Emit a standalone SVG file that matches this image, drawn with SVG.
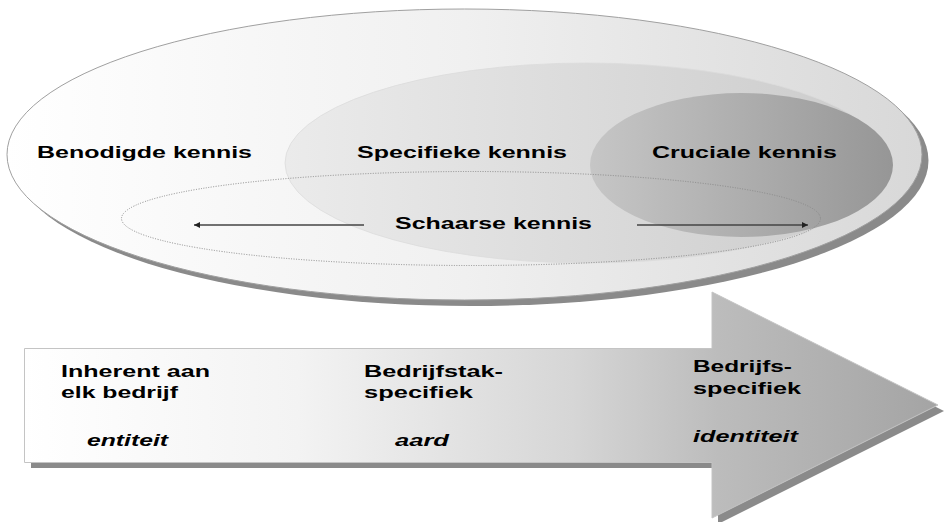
<svg xmlns="http://www.w3.org/2000/svg" width="944" height="522" viewBox="0 0 944 522">
  <defs>
    <linearGradient id="gOuter" gradientUnits="userSpaceOnUse" x1="7" y1="0" x2="922" y2="0">
      <stop offset="0" stop-color="#ffffff"/>
      <stop offset="0.5" stop-color="#f0f0f0"/>
      <stop offset="1" stop-color="#d8d8d8"/>
    </linearGradient>
    <linearGradient id="gSpec" gradientUnits="userSpaceOnUse" x1="285" y1="0" x2="885" y2="0">
      <stop offset="0" stop-color="#ebebeb"/>
      <stop offset="1" stop-color="#cbcbcb"/>
    </linearGradient>
    <linearGradient id="gCruc" gradientUnits="userSpaceOnUse" x1="590" y1="0" x2="893" y2="0">
      <stop offset="0" stop-color="#c6c6c6"/>
      <stop offset="1" stop-color="#969696"/>
    </linearGradient>
    <linearGradient id="gArrow" gradientUnits="userSpaceOnUse" x1="24" y1="0" x2="938" y2="0">
      <stop offset="0" stop-color="#ffffff"/>
      <stop offset="0.3" stop-color="#f3f3f3"/>
      <stop offset="0.6" stop-color="#d6d6d6"/>
      <stop offset="0.76" stop-color="#bcbcbc"/>
      <stop offset="1" stop-color="#a4a4a4"/>
    </linearGradient>
    <marker id="ah" viewBox="0 0 10 10" refX="10" refY="5" markerWidth="8" markerHeight="6" markerUnits="userSpaceOnUse" orient="auto">
      <path d="M0,0 L10,5 L0,10 Z" fill="#222"/>
    </marker>
    <style>
      text { font-family: "Liberation Sans", Arial, sans-serif; font-weight: bold; font-size: 17px; fill: #000; }
      .it { font-style: italic; }
      .shadow { fill: #8a8a8a; }
      .conn { stroke: #444; stroke-width: 1.5; fill: none; marker-end: url(#ah); }
    </style>
  </defs>

  <g id="benodigde">
    <ellipse class="shadow" cx="471" cy="160.5" rx="457.5" ry="145.5"/>
    <ellipse cx="464.5" cy="154.5" rx="457.5" ry="145.5" fill="url(#gOuter)" stroke="#a0a0a0" stroke-width="1"/>
    <text x="37" y="158" textLength="215" lengthAdjust="spacingAndGlyphs">Benodigde kennis</text>
  </g>

  <g id="specifieke">
    <ellipse cx="587" cy="163" rx="302" ry="100" fill="url(#gSpec)" stroke="#dcdcdc" stroke-width="0.8"/>
    <text x="357" y="158" textLength="210" lengthAdjust="spacingAndGlyphs">Specifieke kennis</text>
  </g>

  <g id="cruciale">
    <ellipse cx="741.5" cy="165" rx="151.5" ry="72" fill="url(#gCruc)"/>
    <text x="652" y="158" textLength="185" lengthAdjust="spacingAndGlyphs">Cruciale kennis</text>
  </g>

  <g id="schaarse">
    <ellipse cx="471" cy="218.5" rx="349.5" ry="47" fill="none" stroke="#8a8a8a" stroke-width="1" stroke-dasharray="1 1.5"/>
    <text x="395" y="229" textLength="197" lengthAdjust="spacingAndGlyphs">Schaarse kennis</text>
  </g>

  <g id="connectors">
    <line class="conn" x1="364" y1="225" x2="194" y2="225"/>
    <line class="conn" x1="637" y1="225" x2="808" y2="225"/>
  </g>

  <g id="process-arrow">
    <polygon class="shadow" points="31,354 718,354 718,298 944,411 718,524 718,468 31,468"/>
    <polygon points="24.5,348.5 712,348.5 712,292 938,405 712,518 712,462.5 24.5,462.5" fill="url(#gArrow)" stroke="#c4c4c4" stroke-width="1"/>
  </g>

  <g id="inherent">
    <text x="61" y="377" textLength="149" lengthAdjust="spacingAndGlyphs">Inherent aan</text>
    <text x="61" y="398" textLength="117" lengthAdjust="spacingAndGlyphs">elk bedrijf</text>
    <text class="it" x="87" y="446" textLength="81" lengthAdjust="spacingAndGlyphs">entiteit</text>
  </g>

  <g id="bedrijfstak">
    <text x="364" y="377" textLength="139" lengthAdjust="spacingAndGlyphs">Bedrijfstak-</text>
    <text x="364" y="398" textLength="109" lengthAdjust="spacingAndGlyphs">specifiek</text>
    <text class="it" x="395" y="446" textLength="54" lengthAdjust="spacingAndGlyphs">aard</text>
  </g>

  <g id="bedrijfs">
    <text x="693" y="372" textLength="99" lengthAdjust="spacingAndGlyphs">Bedrijfs-</text>
    <text x="693" y="394" textLength="108" lengthAdjust="spacingAndGlyphs">specifiek</text>
    <text class="it" x="693" y="442" textLength="105" lengthAdjust="spacingAndGlyphs">identiteit</text>
  </g>
</svg>
